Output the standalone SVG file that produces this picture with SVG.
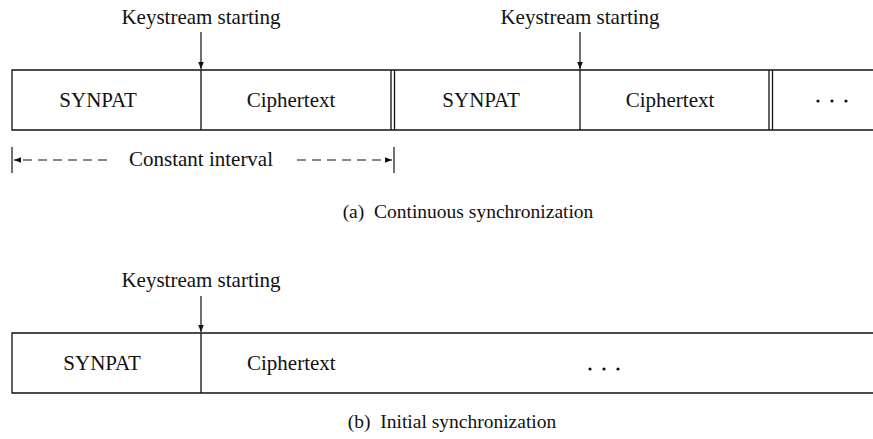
<svg xmlns="http://www.w3.org/2000/svg" width="873" height="439" viewBox="0 0 873 439">
  <defs>
    <marker id="arrowDown" viewBox="0 0 10 10" refX="10" refY="5" markerWidth="8" markerHeight="7" orient="auto" markerUnits="userSpaceOnUse">
      <path d="M0,1 L10,5 L0,9 Z" fill="#111"/>
    </marker>
    <marker id="arrowHead" viewBox="0 0 10 10" refX="10" refY="5" markerWidth="10" markerHeight="7" orient="auto" markerUnits="userSpaceOnUse">
      <path d="M0,1 L10,5 L0,9 Z" fill="#111"/>
    </marker>
  </defs>
  <style>
    text { font-family: "Liberation Serif", "Times New Roman", serif; font-size: 21px; fill: #111; }
    .mid { text-anchor: middle; }
    .cap { font-size: 19.5px; }
    .frame { stroke: #111; stroke-width: 1.3; fill: none; }
    .conn { stroke: #111; stroke-width: 1.2; fill: none; }
    .dash { stroke: #111; stroke-width: 1.2; fill: none; stroke-dasharray: 9 6; }
    .dot { fill: #111; }
  </style>
  <rect width="873" height="439" fill="#fff"/>

  <!-- (a) continuous synchronization: frame stream -->
  <g id="stream-a">
    <path class="frame" d="M873,70 H12 V130 H873"/>
    <line class="frame" x1="201" y1="70" x2="201" y2="130"/>
    <line class="frame" x1="391" y1="70" x2="391" y2="130"/>
    <line class="frame" x1="394.5" y1="70" x2="394.5" y2="130"/>
    <line class="frame" x1="580" y1="70" x2="580" y2="130"/>
    <line class="frame" x1="769" y1="70" x2="769" y2="130"/>
    <line class="frame" x1="772.5" y1="70" x2="772.5" y2="130"/>
  </g>
  <g id="synpat-a1"><text class="mid" x="98" y="107">SYNPAT</text></g>
  <g id="cipher-a1"><text class="mid" x="291" y="107">Ciphertext</text></g>
  <g id="synpat-a2"><text class="mid" x="481" y="107">SYNPAT</text></g>
  <g id="cipher-a2"><text class="mid" x="670" y="107">Ciphertext</text></g>
  <g id="more-a">
    <circle class="dot" cx="818" cy="101" r="1.6"/>
    <circle class="dot" cx="832" cy="101" r="1.6"/>
    <circle class="dot" cx="846" cy="101" r="1.6"/>
  </g>
  <g id="key-a1"><text class="mid" x="201" y="24">Keystream starting</text></g>
  <g id="key-a2"><text class="mid" x="580" y="24">Keystream starting</text></g>

  <!-- (b) initial synchronization: frame stream -->
  <g id="stream-b">
    <path class="frame" d="M873,333 H12 V393 H873"/>
    <line class="frame" x1="201" y1="333" x2="201" y2="393" stroke-width="2"/>
  </g>
  <g id="synpat-b"><text class="mid" x="102" y="370">SYNPAT</text></g>
  <g id="cipher-b"><text x="247" y="370">Ciphertext</text></g>
  <g id="more-b">
    <circle class="dot" cx="590" cy="369" r="1.6"/>
    <circle class="dot" cx="604" cy="369" r="1.6"/>
    <circle class="dot" cx="618" cy="369" r="1.6"/>
  </g>
  <g id="key-b"><text class="mid" x="201" y="287">Keystream starting</text></g>

  <!-- interval measure -->
  <g id="interval">
    <line class="conn" x1="12" y1="147" x2="12" y2="173"/>
    <line class="conn" x1="394" y1="147" x2="394" y2="173"/>
    <text class="mid" x="201" y="166">Constant interval</text>
  </g>

  <!-- connectors -->
  <g id="connectors">
    <line class="conn" x1="201" y1="32" x2="201" y2="69" marker-end="url(#arrowDown)"/>
    <line class="conn" x1="580" y1="32" x2="580" y2="69" marker-end="url(#arrowDown)"/>
    <line class="conn" x1="201" y1="296" x2="201" y2="332" marker-end="url(#arrowDown)"/>
    <line class="dash" x1="107" y1="160" x2="14" y2="160" marker-end="url(#arrowHead)"/>
    <line class="dash" x1="297" y1="160" x2="392" y2="160" marker-end="url(#arrowHead)"/>
  </g>

  <!-- captions -->
  <g id="captions">
    <text class="mid cap" x="468" y="218" xml:space="preserve">(a)  Continuous synchronization</text>
    <text class="mid cap" x="452" y="428" xml:space="preserve">(b)  Initial synchronization</text>
  </g>
</svg>
